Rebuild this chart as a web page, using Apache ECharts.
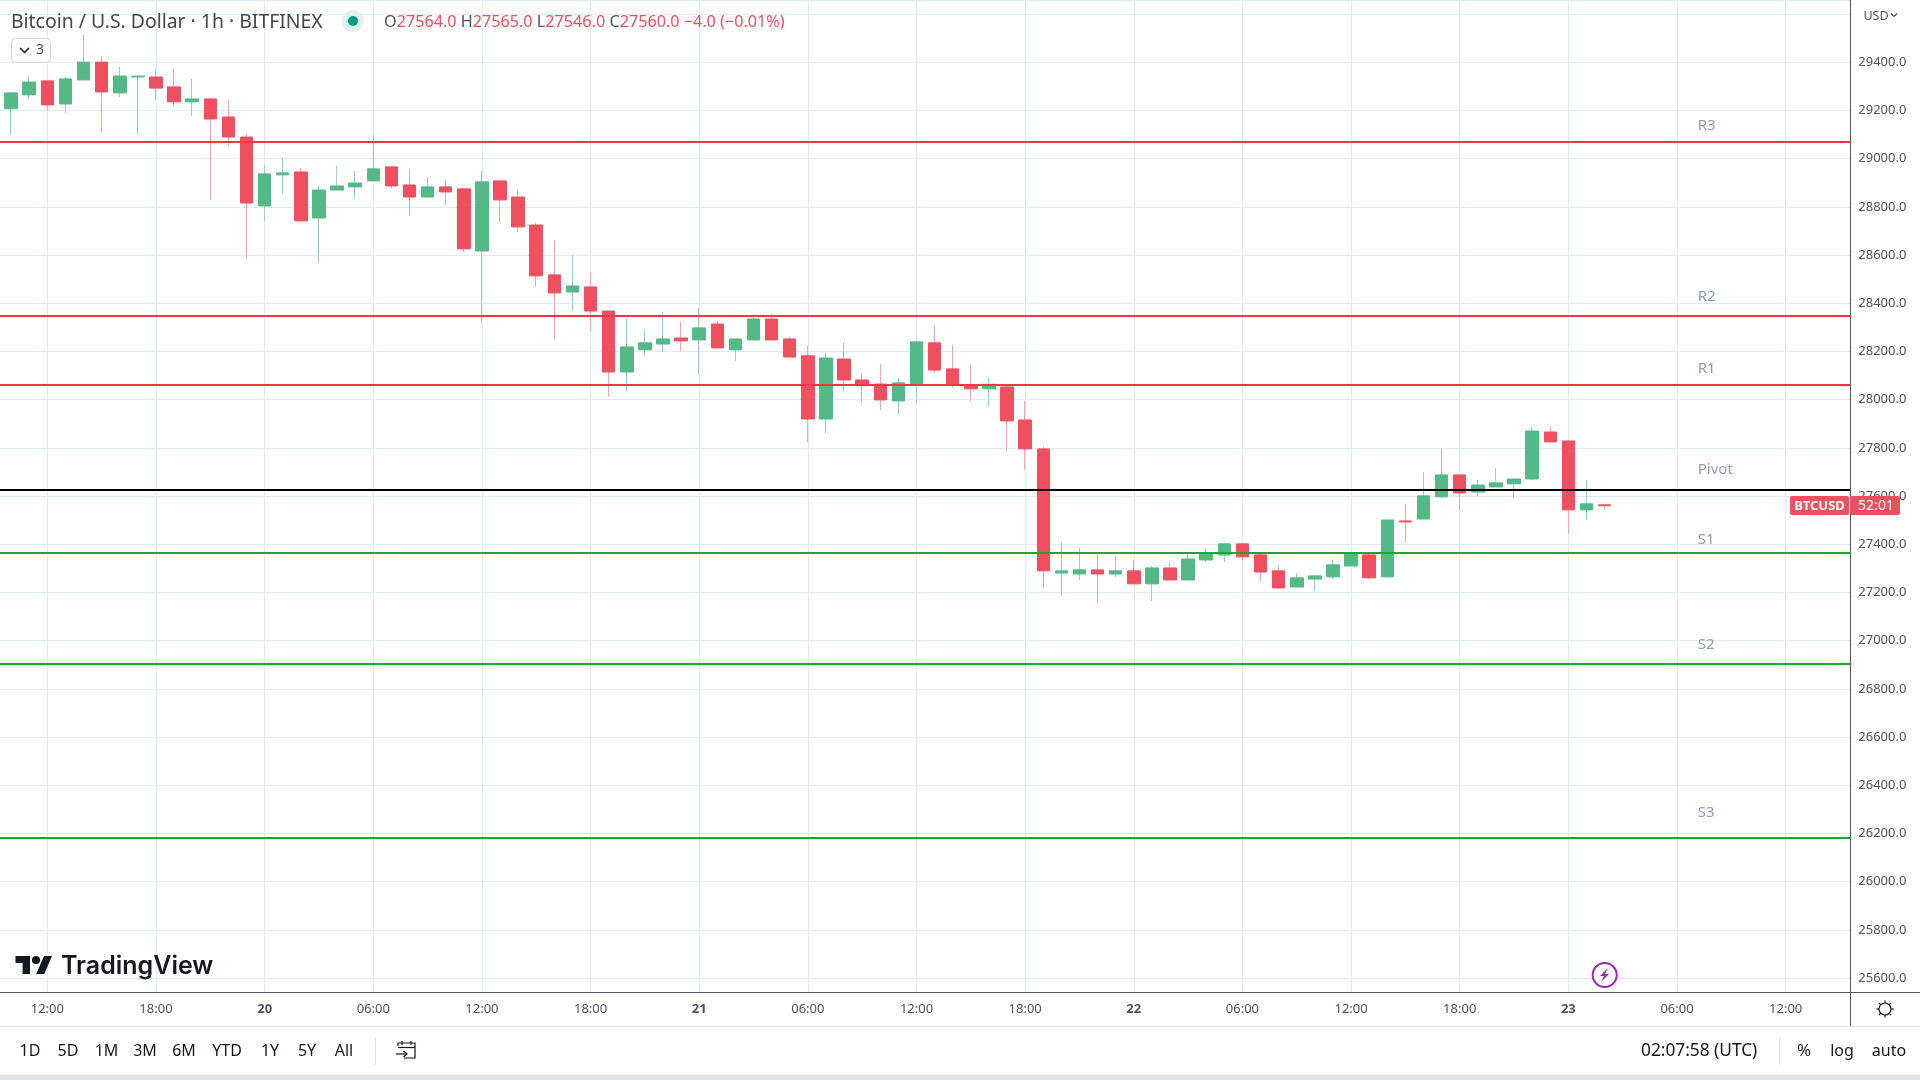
<!DOCTYPE html>
<html><head><meta charset="utf-8">
<style>html,body{margin:0;padding:0;background:#fff}#c{width:1920px;height:1080px}</style>
<script src="https://cdn.jsdelivr.net/npm/echarts@6/dist/echarts.min.js"></script>
</head><body><div id="c"></div>
<script>
// hours since 19 Aug 00:00; first candle is 10:00
const firstHour = 10;
const opens = [29207,29265,29323,29227,29327,29401,29273,29339,29339,29298,29236,29248,29173,29090,28804,28933,28945,28754,28870,28883,28908,28966,28891,28841,28883,28875,28617,28908,28841,28725,28518,28447,28468,
28368,28115,28207,28231,28256,28248,28314,28207,28248,28335,28252,28182,27920,28169,28082,28065,27995,28061,28236,28128,28061,28045,28053,27916,
27796,27281,27277,27294,27277,27290,27236,27302,27252,27335,27356,27402,27356,27290,27223,27256,27265,27310,27356,27265,27497,27505,27597,27688,27617,27638,27651,27671,27866,27829,27543,27564];
const closes = [29273,29318,29223,29331,29401,29277,29343,29343,29293,29236,29248,29165,29090,28816,28937,28941,28742,28870,28887,28899,28958,28887,28841,28883,28862,28626,28904,28829,28717,28514,28443,28472,28368,
28115,28219,28236,28252,28244,28298,28215,28252,28335,28248,28177,27920,28173,28082,28058,27999,28070,28240,28123,28061,28045,28064,27912,27796,
27290,27290,27294,27277,27290,27236,27302,27252,27339,27364,27402,27348,27285,27219,27261,27269,27315,27364,27261,27501,27493,27601,27688,27613,27646,27655,27671,27870,27825,27543,27568,27560];
const lows = [29099,29249,29198,29190,29327,29111,29256,29099,29244,29219,29177,28829,29053,28584,28742,28854,28742,28572,28870,28833,28908,28879,28762,28841,28808,28613,28323,28738,28696,28468,28252,28368,28281,
28012,28036,28182,28198,28202,28103,28211,28161,28248,28248,28177,27825,27862,28036,27991,27958,27941,27987,28115,28049,27995,27970,27788,27709,
27219,27190,27252,27157,27265,27236,27165,27252,27252,27327,27327,27335,27248,27215,27223,27207,27256,27310,27256,27265,27406,27505,27593,27543,27601,27638,27593,27667,27821,27443,27501,27546];
const highs = [29273,29343,29323,29339,29513,29426,29381,29343,29372,29368,29331,29252,29244,29103,28974,29003,28962,28887,28970,28949,29099,28966,28958,28924,28912,28875,28949,28908,28870,28734,28663,28601,28526,
28368,28335,28294,28364,28323,28381,28327,28252,28348,28356,28260,28223,28194,28236,28107,28148,28090,28244,28310,28227,28144,28094,28057,27995,
27804,27410,27385,27364,27352,27335,27310,27323,27364,27381,27402,27402,27364,27315,27281,27269,27335,27364,27360,27501,27568,27700,27800,27688,27667,27717,27671,27883,27887,27829,27667,27565];

const levelNames  = ['R3','R2','R1','Pivot','S1','S2','S3'];
const levelValues = [29070,28347,28061,27626,27366,26903,26181];
const levelColors = ['#f23645','#f23645','#f23645','#000000','#18a82a','#18a82a','#18a82a'];
const levelLabelPrices = [29136,28426,28130,27709,27419,26983,26286];
const levelLabelHour = 103.12;

const xTickLabels = ['12:00','18:00','20','06:00','12:00','18:00','21','06:00','12:00','18:00','22','06:00','12:00','18:00','23','06:00','12:00'];
const xTickFirstHour = 12;
const rangeButtons = ['1D','5D','1M','3M','6M','YTD','1Y','5Y','All'];
const rangeButtonX = [30,68,106.5,145,184,227,270,307,344];

const FONT = '"Noto Sans", sans-serif';
const hours = opens.map((_, i) => firstHour + i);
const wickData = opens.map((o, i) => [hours[i], o, closes[i], lows[i], highs[i]]);
const bodyData = opens.map((o, i) => [hours[i], o, closes[i], Math.min(o, closes[i]), Math.max(o, closes[i])]);

const txt = (x, y, text, extra) => ({type:'text', x, y, z:100, silent:true,
  style:Object.assign({text, font:'16px '+FONT, fill:'#131722', align:'center', verticalAlign:'middle'}, extra||{})});
const rect = (x, y, width, height, fill, r) => ({type:'rect', z:90, silent:true, shape:{x,y,width,height,r:r||0}, style:{fill}});
const line = (x1,y1,x2,y2,stroke,w) => ({type:'line', z:90, silent:true, shape:{x1,y1,x2,y2}, style:{stroke, lineWidth:w||1}});
const poly = (points, stroke, w) => ({type:'polyline', z:100, silent:true, shape:{points}, style:{stroke, lineWidth:w||1, fill:null}});

const gearTicks = [];
for (let a = 0; a < 8; a++) {
  const t = a * Math.PI / 4;
  gearTicks.push(line(1885+6*Math.cos(t), 1009+6*Math.sin(t), 1885+8.6*Math.cos(t), 1009+8.6*Math.sin(t), '#131722', 1.2));
}

const graphics = [
  // axis frame + toolbar
  line(0,992.5,1920,992.5,'#50535e',1),
  line(1850.5,992,1850.5,1026,'#50535e',1),
  rect(0,1026,1920,1,'#e0e3eb'),
  rect(0,1075,1920,5,'#e0e3eb'),
  line(375.5,1037,375.5,1065,'#e0e3eb',1),
  line(1779.5,1037,1779.5,1065,'#e0e3eb',1),
  // header
  txt(11,22,'Bitcoin / U.S. Dollar \u00b7 1h \u00b7 BITFINEX',{align:'left',font:'19.4px '+FONT,fill:'#444750'}),
  {type:'circle',z:99,silent:true,shape:{cx:353,cy:21,r:11},style:{fill:'#dff2ef'}},
  {type:'circle',z:100,silent:true,shape:{cx:353,cy:21,r:5},style:{fill:'#089981'}},
  {type:'text',x:384,y:22,z:100,silent:true,style:{
    text:'{g|O}{r|27564.0} {g|H}{r|27565.0} {g|L}{r|27546.0} {g|C}{r|27560.0} {r|\u22124.0 (\u22120.01%)}',
    font:'16.2px '+FONT,verticalAlign:'middle',align:'left',
    rich:{g:{fill:'#50535e',font:'16.2px '+FONT},r:{fill:'#ef4e5e',font:'16.2px '+FONT}}}},
  {type:'rect',z:100,silent:true,shape:{x:11.5,y:38.5,width:39,height:24,r:4},style:{fill:'#fff',stroke:'#d6d9e2',lineWidth:1}},
  poly([[20,48],[24.5,52.5],[29,48]],'#131722',1.5),
  txt(40,50.5,'3',{font:'14px '+FONT,fill:'#50535e'}),
  // USD selector
  rect(1852,0,68,28,'#ffffff'),
  txt(1876,16.5,'USD',{font:'12.5px '+FONT,fill:'#50535e'}),
  poly([[1891,13.5],[1894,16.5],[1897,13.5]],'#50535e',1.2),
  // price tag
  rect(1790,496,59,19,'#ef5060',2),
  rect(1850,496,50,19,'#ef5060',2),
  txt(1819.5,506.5,'BTCUSD',{font:'bold 13px '+FONT,fill:'#ffffff'}),
  txt(1876,506.5,'52:01',{font:'14px '+FONT,fill:'#ffffff'}),
  // logo
  {type:'polygon',z:100,silent:true,shape:{points:[[15.5,956],[30,956],[30,974],[22.6,974],[22.6,963],[15.5,963]]},style:{fill:'#131722'}},
  {type:'circle',z:100,silent:true,shape:{cx:36,cy:960,r:4.1},style:{fill:'#131722'}},
  {type:'polygon',z:100,silent:true,shape:{points:[[44,956],[52,956],[44.3,974],[36.2,974]]},style:{fill:'#131722'}},
  txt(61,966,'TradingView',{align:'left',font:'600 25px Inter, '+FONT,fill:'#131722'}),
  // bolt
  {type:'circle',z:100,silent:true,shape:{cx:1604.7,cy:975,r:12},style:{fill:'#ffffff',stroke:'#9c27b0',lineWidth:2}},
  {type:'polygon',z:100,silent:true,shape:{points:[[1608,968],[1600,976],[1604,976],[1601,982],[1609,974],[1605,974]]},style:{fill:'#9c27b0'}},
  // gear
  {type:'circle',z:100,silent:true,shape:{cx:1885,cy:1009,r:6},style:{fill:'#fff',stroke:'#131722',lineWidth:1.2}},
  ...gearTicks,
  // calendar
  poly([[398,1046],[398,1043],[415,1043],[415,1058],[404,1058]],'#131722',1.2),
  line(398,1047.5,415,1047.5,'#131722',1.2),
  line(402,1041,402,1045,'#131722',1.2),
  line(411,1041,411,1045,'#131722',1.2),
  poly([[396,1054],[407,1054]],'#131722',1.2),
  poly([[403.5,1051],[407,1054],[403.5,1057]],'#131722',1.2),
  // toolbar text
  ...rangeButtons.map((b, i) => txt(rangeButtonX[i],1051.5,b,{font:'16px '+FONT})),
  txt(1641,1051.5,'02:07:58 (UTC)',{align:'left',font:'17.3px '+FONT}),
  txt(1804,1051.5,'%',{font:'17px '+FONT}),
  txt(1842,1051.5,'log',{font:'16px '+FONT}),
  txt(1889,1051.5,'auto',{font:'16px '+FONT})
];

const chart = echarts.init(document.getElementById('c'), null, {renderer:'canvas', width:1920, height:1080});
chart.setOption({
  animation:false,
  backgroundColor:'#ffffff',
  textStyle:{fontFamily:FONT},
  grid:{left:-61.3, top:0, width:1911.6, height:992.3, containLabel:false, outerBoundsMode:'none'},
  xAxis:{
    type:'value', min:6, max:111.57, interval:6, position:'bottom',
    axisLine:{show:false}, axisTick:{show:false},
    splitLine:{show:true, lineStyle:{color:'#e0ebf2', width:1}},
    axisLabel:{
      show:true, margin:10, color:'#50535e', fontSize:13, fontFamily:FONT, hideOverlap:false,
      showMinLabel:false, showMaxLabel:false,
      formatter:v => {
        const j = (v - xTickFirstHour) / 6;
        if (!Number.isInteger(j) || j < 0 || j >= xTickLabels.length) return '';
        const s = xTickLabels[j];
        return s.length === 2 ? '{b|'+s+'}' : s;
      },
      rich:{b:{fontWeight:'bold', fontSize:13, color:'#50535e', fontFamily:FONT}}
    }
  },
  yAxis:{
    type:'value', position:'right', min:25541.3, max:29658.5, splitNumber:20, scale:true,
    axisLine:{show:true, onZero:false, lineStyle:{color:'#50535e', width:1}},
    axisTick:{show:false},
    splitLine:{show:true, lineStyle:{color:'#e0ebf2', width:1}},
    axisLabel:{
      show:true, margin:8, color:'#50535e', fontSize:13, fontFamily:FONT,
      formatter:v => (Math.abs(v/200 - Math.round(v/200)) < 1e-6 ? v.toFixed(1) : '')
    }
  },
  series:[
    {name:'wicks', type:'candlestick', barWidth:1, data:wickData, z:3, silent:true,
     itemStyle:{color:'#9ccccc', color0:'#f6a3ad', borderColor:'#9ccccc', borderColor0:'#f6a3ad', borderWidth:1}},
    {name:'bodies', type:'candlestick', barWidth:13, data:bodyData, z:4, silent:true,
     itemStyle:{color:'#53b987', color0:'#ef5060', borderColor:'#53b987', borderColor0:'#ef5060', borderWidth:1},
     markLine:{symbol:'none', silent:true, animation:false, label:{show:false},
       data:levelValues.map((v,i)=>({yAxis:v, lineStyle:{color:levelColors[i], width:2, type:'solid'}}))}},
    {name:'levels', type:'scatter', symbolSize:1, z:5, silent:true, itemStyle:{color:'rgba(0,0,0,0)'},
     data:levelNames.map((n,i)=>({name:n, value:[levelLabelHour, levelLabelPrices[i]]})),
     label:{show:true, position:'right', distance:0, formatter:p=>p.name, color:'#758696', fontSize:15, fontFamily:FONT}}
  ],
  graphic:graphics
});
</script></body></html>
